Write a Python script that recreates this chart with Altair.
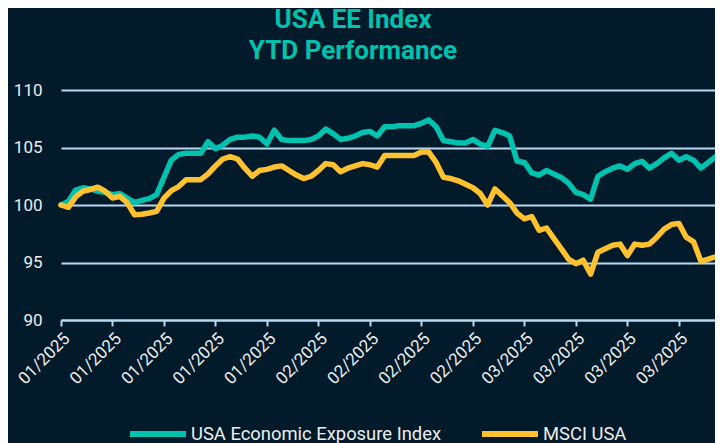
import altair as alt
import pandas as pd

# Daily observations, 1 Jan 2025 - 1 Apr 2025 (weekend values carried forward)
dates = pd.date_range("2025-01-01", "2025-04-01", freq="D").strftime("%Y-%m-%d").tolist()
tick_dates = dates[::7][:13]
tick_labels = ["01/2025"] * 5 + ["02/2025"] * 4 + ["03/2025"] * 4

series_names = ["USA Economic Exposure Index", "MSCI USA"]
series_colors = ["#00C2AF", "#FFC22E"]

ee_index = [
    100.0, 100.3, 101.3, 101.5, 101.4, 101.2, 101.1, 100.9, 101.0, 100.6,
    100.2, 100.4, 100.55, 100.9, 102.4, 103.9, 104.4, 104.5, 104.5, 104.5,
    105.5, 104.9, 105.2, 105.7, 105.9, 105.9, 106.0, 105.9, 105.3, 106.5,
    105.7, 105.6, 105.6, 105.6, 105.7, 106.0, 106.6, 106.2, 105.7, 105.8,
    106.0, 106.3, 106.4, 106.0, 106.8, 106.8, 106.9, 106.9, 106.9, 107.1,
    107.4, 106.8, 105.6, 105.5, 105.4, 105.4, 105.7, 105.3, 105.1, 106.5,
    106.3, 106.0, 103.8, 103.7, 102.8, 102.6, 103.0, 102.7, 102.4, 101.9,
    101.1, 100.9, 100.5, 102.5, 102.9, 103.2, 103.4, 103.1, 103.6, 103.8,
    103.2, 103.6, 104.1, 104.5, 103.9, 104.2, 103.9, 103.2, 103.7, 104.2,
    104.8,
]

msci_usa = [
    100.0, 99.8, 100.7, 101.2, 101.35, 101.55, 101.2, 100.6, 100.75, 100.2,
    99.15, 99.2, 99.3, 99.45, 100.6, 101.25, 101.6, 102.2, 102.2, 102.2,
    102.7, 103.4, 104.0, 104.2, 104.0, 103.2, 102.5, 103.0, 103.1, 103.3,
    103.4, 103.0, 102.6, 102.3, 102.5, 103.0, 103.6, 103.5, 102.9, 103.2,
    103.4, 103.6, 103.5, 103.3, 104.3, 104.3, 104.3, 104.3, 104.3, 104.6,
    104.6, 103.7, 102.4, 102.3, 102.1, 101.8, 101.5, 101.0, 100.0, 101.4,
    100.8, 100.2, 99.3, 98.8, 99.0, 97.8, 98.0, 97.1, 96.2, 95.3,
    94.9, 95.2, 94.0, 95.9, 96.2, 96.5, 96.6, 95.6, 96.6, 96.5,
    96.6, 97.2, 97.9, 98.3, 98.4, 97.2, 96.8, 95.1, 95.3, 95.5,
    95.7,
]

y_ticks = [90, 95, 100, 105, 110]

df = pd.DataFrame({
    "date": dates + dates,
    "value": ee_index + msci_usa,
    "series": [series_names[0]] * len(dates) + [series_names[1]] * len(dates),
})

label_map = "{" + ",".join(f"'{d}':'{l}'" for d, l in zip(tick_dates, tick_labels)) + "}"

GRID = "#B9D9F2"
TEXT = "#EDEDED"
BG = "#021A2A"

chart = alt.Chart(df).mark_line(
    strokeWidth=5.5, strokeCap="round", strokeJoin="round"
).encode(
    x=alt.X(
        "date:O",
        sort=None,
        scale=alt.Scale(type="point", padding=0, range=[0, 662]),
        axis=alt.Axis(
            values=tick_dates,
            labelExpr=label_map + "[datum.value]",
            labelAngle=-45,
            title=None,
            grid=False,
            domainColor=GRID,
            domainWidth=2,
            tickColor=GRID,
            tickWidth=2,
            tickSize=6,
            labelColor=TEXT,
            labelFont="Roboto",
            labelFontSize=17,
            labelPadding=4,
        ),
    ),
    y=alt.Y(
        "value:Q",
        scale=alt.Scale(domain=[90, 110], nice=False, zero=False),
        axis=alt.Axis(
            values=y_ticks,
            title=None,
            domain=False,
            ticks=False,
            grid=True,
            gridColor=GRID,
            gridWidth=2,
            labelColor=TEXT,
            labelFont="Roboto",
            labelFontSize=17,
            labelPadding=19,
        ),
    ),
    color=alt.Color(
        "series:N",
        scale=alt.Scale(domain=series_names, range=series_colors),
        legend=alt.Legend(
            title=None,
            orient="none",
            direction="horizontal",
            legendX=66,
            legendY=313,
            symbolType="stroke",
            symbolSize=3136,
            symbolStrokeWidth=6,
            labelColor=TEXT,
            labelFont="Roboto",
            labelFontSize=18.4,
            labelLimit=0,
            labelOffset=2,
            columnPadding=28,
            padding=0,
        ),
    ),
).properties(
    width=654,
    height=230,
    autosize=alt.AutoSizeParams(type="none"),
    padding={"left": 53, "top": 82, "right": 0, "bottom": 125},
    background=BG,
    title=alt.TitleParams(
        text=["USA EE Index", "YTD Performance"],
        color="#00C2AF",
        font="Roboto",
        fontSize=26,
        fontWeight="bold",
        anchor="middle",
        dx=-35,
        lineHeight=31,
        offset=17,
    ),
).configure_view(stroke=None)

chart.save("out.html", embed_options={"renderer": "svg", "actions": False})
